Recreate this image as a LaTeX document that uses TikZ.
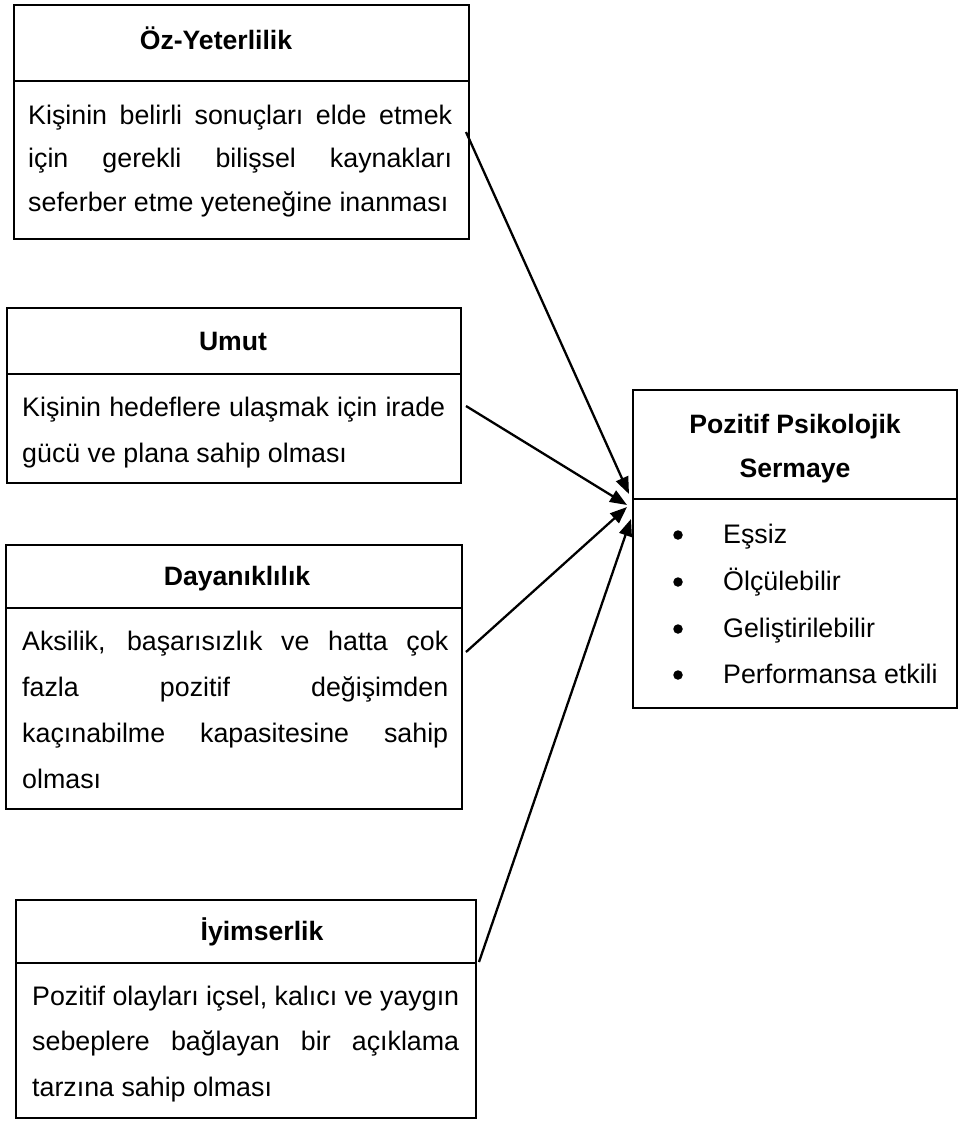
\documentclass[tikz,border=0pt]{standalone}
\usepackage{fontspec}
\setmainfont{Liberation Sans}
\usetikzlibrary{arrows.meta}

\tikzset{
  box/.style={draw, line width=2.6pt, inner sep=0pt, outer sep=0pt, anchor=north west},
  ttl/.style={font=\bfseries\fontsize{26.6}{30}\selectfont, inner sep=0pt, anchor=base},
  txt/.style={font=\fontsize{26.8}{30}\selectfont, inner sep=0pt, anchor=base west},
  dot/.style={circle, fill, inner sep=0pt, minimum size=9.5pt},
  link/.style={line width=2.3pt, -{Triangle[length=17pt,width=13pt]}},
}
% justified line of a given width
\newcommand{\jline}[2]{\makebox[#1pt][s]{#2}}

\begin{document}
\begin{tikzpicture}[x=1pt,y=-1pt]
\useasboundingbox (0,0) rectangle (961,1122);
\fill[white] (0,0) rectangle (961,1122);

% ---- Öz-Yeterlilik
\node[box, minimum width=455pt, minimum height=76pt]  (oz head) at (14,5) {};
\node[box, minimum width=455pt, minimum height=158pt] (oz body) at (14,81) {};
\node[ttl] (oz title) at (216,49) {Öz-Yeterlilik};
\node[txt] (oz l1) at (28,124)   {\jline{424}{Kişinin belirli sonuçları elde etmek}};
\node[txt] (oz l2) at (28,167.5) {\jline{424}{için gerekli bilişsel kaynakları}};
\node[txt] (oz l3) at (28,211)   {seferber etme yeteneğine inanması};

% ---- Umut
\node[box, minimum width=454pt, minimum height=66pt]  (um head) at (7,308) {};
\node[box, minimum width=454pt, minimum height=109pt] (um body) at (7,374) {};
\node[ttl] (um title) at (233,350) {Umut};
\node[txt] (um l1) at (22,416) {\jline{423}{Kişinin hedeflere ulaşmak için irade}};
\node[txt] (um l2) at (22,462) {gücü ve plana sahip olması};

% ---- Dayanıklılık
\node[box, minimum width=456pt, minimum height=63pt]  (da head) at (6,545) {};
\node[box, minimum width=456pt, minimum height=201pt] (da body) at (6,608) {};
\node[ttl] (da title) at (237,585) {Dayanıklılık};
\node[txt] (da l1) at (22,650) {\jline{426}{Aksilik, başarısızlık ve hatta çok}};
\node[txt] (da l2) at (22,696) {\jline{426}{fazla pozitif değişimden}};
\node[txt] (da l3) at (22,742) {\jline{426}{kaçınabilme kapasitesine sahip}};
\node[txt] (da l4) at (22,788) {olması};

% ---- İyimserlik
\node[box, minimum width=460pt, minimum height=63pt]  (iy head) at (16,900) {};
\node[box, minimum width=460pt, minimum height=155pt] (iy body) at (16,963) {};
\node[ttl] (iy title) at (262,940) {İyimserlik};
\node[txt] (iy l1) at (32,1005)   {\jline{427}{Pozitif olayları içsel, kalıcı ve yaygın}};
\node[txt] (iy l2) at (32,1050.5) {\jline{427}{sebeplere bağlayan bir açıklama}};
\node[txt] (iy l3) at (32,1096)   {tarzına sahip olması};

% ---- Pozitif Psikolojik Sermaye
\node[box, minimum width=324pt, minimum height=109pt] (ps head) at (633,390) {};
\node[box, minimum width=324pt, minimum height=209pt] (ps body) at (633,499) {};
\node[ttl] (ps t1) at (795,433) {Pozitif Psikolojik};
\node[ttl] (ps t2) at (795,477) {Sermaye};
\node[dot] (ps b1) at (678,535) {};
\node[dot] (ps b2) at (678,582) {};
\node[dot] (ps b3) at (678,629) {};
\node[dot] (ps b4) at (678,675) {};
\node[txt] (ps i1) at (723,543) {Eşsiz};
\node[txt] (ps i2) at (723,590) {Ölçülebilir};
\node[txt] (ps i3) at (723,637) {Geliştirilebilir};
\node[txt] (ps i4) at (723,683) {Performansa etkili};

% ---- connectors
\coordinate (s1) at (466,132);
\coordinate (s2) at (466,406);
\coordinate (s3) at (466,652);
\coordinate (s4) at (479,962);
\coordinate (t1) at (629,494);
\coordinate (t2) at (627,505);
\coordinate (t3) at (627,507);
\coordinate (t4) at (631,519);
\draw[link] (s1) -- (t1);
\draw[link] (s2) -- (t2);
\draw[link] (s3) -- (t3);
\draw[link] (s4) -- (t4);
\end{tikzpicture}
\end{document}
